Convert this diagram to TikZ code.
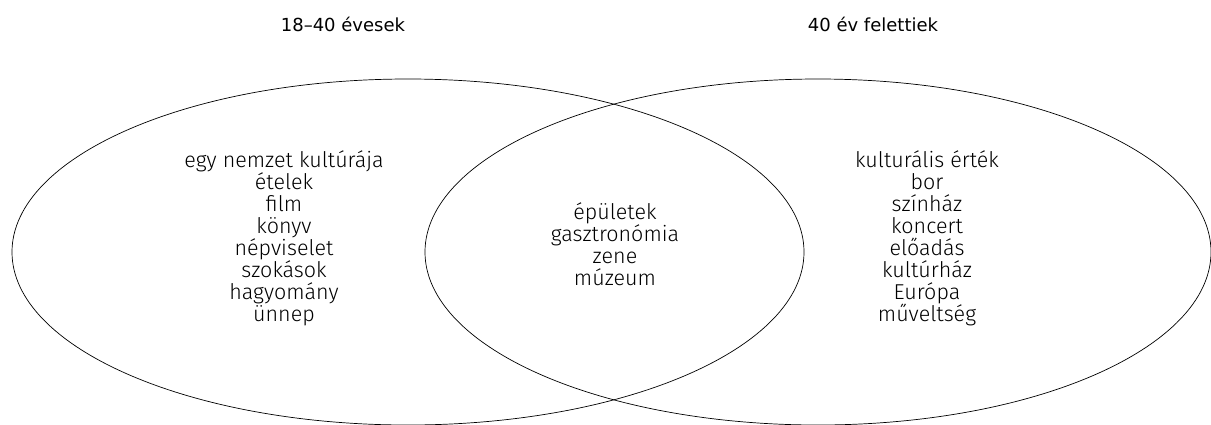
\documentclass[tikz,border=0pt]{standalone}
\usepackage{fontspec}
\setmainfont{Fira Sans Light}
\newfontfamily\titlefont{DejaVu Sans}
\usepackage{tikz}
\usetikzlibrary{positioning}

\tikzset{
  setline/.style={line width=0.7pt, black},
  grouptitle/.style={font=\titlefont\fontsize{18}{20}\selectfont, inner sep=0pt},
  itemlist/.style={align=center, font=\fontsize{21.5}{22}\selectfont, inner sep=0pt}
}

\begin{document}
\begin{tikzpicture}[x=1pt, y=-1pt]
  \useasboundingbox (0, 0) rectangle (1211, 424);
  \clip (0, 0) rectangle (1211, 424);

  % the two age groups
  \draw[setline] (408, 252) ellipse [x radius=396, y radius=173];
  \draw[setline] (818, 252) ellipse [x radius=393, y radius=173];

  \node[grouptitle] (young) at (343, 24) {18–40 évesek};
  \node[grouptitle] (old) at (873, 24) {40 év felettiek};

  % left only
  \node[itemlist] (leftset) at (284, 238) {egy nemzet kultúrája\\ételek\\film\\könyv\\népviselet\\szokások\\hagyomány\\ünnep};

  % shared
  \node[itemlist] (bothsets) at (615, 244) {épületek\\gasztronómia\\zene\\múzeum};

  % right only
  \node[itemlist] (rightset) at (927, 238) {kulturális érték\\bor\\színház\\koncert\\előadás\\kultúrház\\Európa\\műveltség};
\end{tikzpicture}
\end{document}
